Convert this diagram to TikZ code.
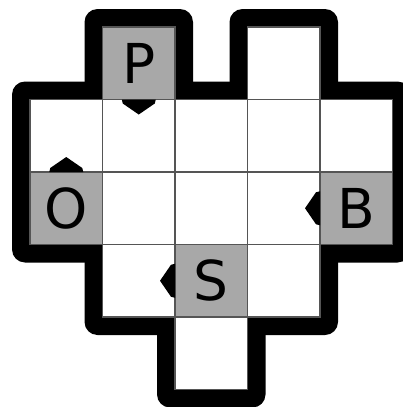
\documentclass[tikz,border=0pt]{standalone}
\usepackage{fontspec}
\setmainfont{DejaVu Sans}
\definecolor{cellgray}{RGB}{168,168,168}
\definecolor{gridline}{RGB}{85,85,85}
\tikzset{
  borderblob/.style={fill=black, rounded corners=13pt},
  cellwhite/.style={fill=white, draw=gridline, line width=1.3pt},
  cellgrey/.style={fill=cellgray, draw=gridline, line width=1.3pt},
  letter/.style={font=\fontsize{55}{55}\selectfont, inner sep=0pt},
  marker/.style={fill=black}
}
\begin{document}
\begin{tikzpicture}[x=1pt,y=-1pt]
\useasboundingbox (0,0) rectangle (403,407);
\clip (0,0) rectangle (403,407);
% thick outer border
\foreach \c/\r in {1/0,3/0,0/1,1/1,2/1,3/1,4/1,0/2,1/2,2/2,3/2,4/2,1/3,2/3,3/3,2/4}
  \fill[borderblob] ({30+72.5*\c-18},{27+72.5*\r-18}) rectangle ++(108.5,108.5);
% white cells
\foreach \c/\r in {3/0,0/1,1/1,2/1,3/1,4/1,1/2,2/2,3/2,1/3,3/3,2/4}
  \draw[cellwhite] ({30+72.5*\c},{27+72.5*\r}) rectangle ++(72.5,72.5);
% grey cells
\foreach \c/\r in {1/0,0/2,4/2,2/3}
  \draw[cellgrey] ({30+72.5*\c},{27+72.5*\r}) rectangle ++(72.5,72.5);
% letters
\node[letter] (P) at (138.75,63.25) {P};
\node[letter] (O) at (66.25,208.25) {O};
\node[letter] (B) at (356.25,208.25) {B};
\node[letter] (S) at (211.25,280.75) {S};
% markers on cell edges
\coordinate (mP) at (138.75,99.5);
\coordinate (mO) at (66.25,172);
\coordinate (mB) at (320,208.25);
\coordinate (mS) at (175,280.75);
\fill[marker] (mP) ++(-17,0) -- ++(1,4) -- ++(16,11) -- ++(16,-11) -- ++(1,-4) -- cycle;
\fill[marker] (mO) ++(-17,0) -- ++(1,-4) -- ++(16,-11) -- ++(16,11) -- ++(1,4) -- cycle;
\fill[marker] (mB) ++(0,-17) -- ++(-4,1) -- ++(-11,16) -- ++(11,16) -- ++(4,1) -- cycle;
\fill[marker] (mS) ++(0,-17) -- ++(-4,1) -- ++(-11,16) -- ++(11,16) -- ++(4,1) -- cycle;
\end{tikzpicture}
\end{document}
